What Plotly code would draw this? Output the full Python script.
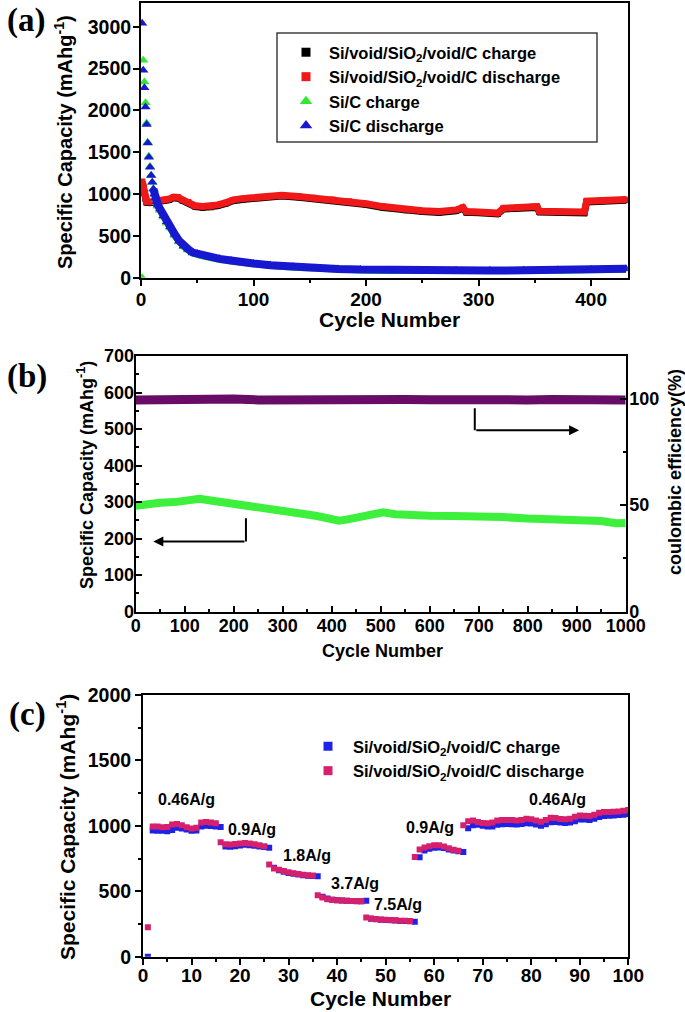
import plotly.graph_objects as go

W, H = 685, 1012
FONT = "Liberation Sans, Arial, sans-serif"
SERIF = "Liberation Serif, Times New Roman, serif"


def fx(p):
    return p / W


def fy(p):
    return 1 - p / H


# ---------------- panel (a) data ----------------
a_void_cycles = [1, 2, 3, 4, 5, 8, 12, 16, 20, 25, 29, 33, 37, 42, 48, 55, 62, 68, 75, 82, 90,
                 97, 105, 115, 125, 140, 153, 170, 185, 200, 215, 235, 250, 265, 280, 286, 289,
                 300, 317, 322, 335, 348, 352, 354, 377, 394, 396, 410, 431]
a_void_discharge = [1150, 1100, 1020, 950, 910, 905, 915, 910, 930, 940, 965, 960, 930, 905, 860,
                    850, 852, 870, 895, 930, 945, 955, 965, 975, 985, 970, 955, 935, 915, 885, 850,
                    815, 800, 790, 810, 840, 790, 785, 772, 830, 840, 850, 850, 795, 785, 785, 915,
                    925, 935]
a_void_charge = [1140, 1090, 1010, 940, 900, 895, 905, 900, 920, 930, 955, 950, 920, 895, 850,
                 840, 842, 860, 885, 920, 935, 945, 955, 965, 975, 960, 945, 925, 905, 875, 840,
                 805, 790, 780, 800, 830, 780, 775, 762, 820, 830, 840, 840, 785, 775, 775, 905,
                 915, 925]

a_sic_cycles = [1, 2, 3, 4, 5, 6, 7, 8, 9, 10, 11, 12, 13, 14, 15, 17, 20, 23, 26, 30, 34, 38,
                42, 46, 50, 55, 61, 70, 80, 91, 100, 115, 135, 155, 175, 195, 220, 250, 280, 310,
                340, 370, 400, 431]
a_sic_discharge = [3040, 2480, 2270, 2040, 1830, 1610, 1440, 1320, 1220, 1140, 1060, 1000, 950,
                   905, 870, 820, 740, 670, 610, 520, 440, 380, 340, 300, 285, 265, 245, 225, 205,
                   180, 170, 150, 130, 115, 105, 97, 90, 87, 86, 86, 88, 92, 98, 106]
a_sic_charge = [0, 2600, 2340, 2090, 1850, 1620, 1450, 1330, 1225, 1140, 1060, 995, 940, 895,
                855, 805, 725, 655, 595, 505, 428, 370, 330, 292, 278, 258, 238, 218, 198, 175,
                165, 145, 125, 110, 100, 92, 86, 83, 82, 82, 84, 88, 94, 102]

# ---------------- panel (b) data ----------------
b_cap_cycles = [0, 20, 50, 80, 110, 130, 160, 190, 220, 250, 280, 310, 340, 370, 400, 415, 430,
                460, 490, 505, 530, 560, 600, 650, 700, 720, 750, 800, 850, 900, 950, 980, 1000]
b_capacity = [290, 295, 298, 300, 305, 309, 303, 298, 292, 285, 280, 274, 268, 262, 254, 249,
              252, 262, 270, 272, 267, 264, 263, 262, 261, 264, 259, 255, 254, 250, 248, 242, 243]
b_ce_cycles = [0, 50, 100, 150, 200, 250, 300, 350, 400, 450, 500, 550, 600, 650, 700, 750, 800,
               850, 900, 950, 1000]
b_ce = [99.3, 99.6, 99.2, 99.5, 99.8, 99.4, 99.6, 99.3, 99.5, 99.7, 99.4, 99.6, 99.5, 99.3, 99.8,
        99.5, 99.4, 99.6, 99.3, 99.5, 99.4]

# ---------------- panel (c) data ----------------
c_cycles = list(range(1, 101))
c_discharge = [225,
               995, 995, 990, 992, 1010, 1015, 1005, 990, 980, 985, 1025, 1030, 1025, 1020,
               875, 860, 858, 862, 866, 868, 865, 860, 852, 845,
               705, 675, 665, 655, 645, 638, 632, 626, 622, 620,
               470, 452, 440, 435, 432, 430, 428, 426, 425, 424,
               300, 292, 288, 284, 282, 280, 278, 274, 275, 272,
               762, 820, 835, 845, 852, 852, 842, 828, 818, 810,
               1005, 1035, 1040, 1030, 1022, 1020, 1025, 1040, 1045, 1045, 1045, 1040, 1045, 1055,
               1050, 1040, 1032, 1045, 1062, 1060, 1052, 1050, 1055, 1070, 1080, 1078, 1075, 1085,
               1100, 1105, 1105, 1108, 1110, 1115, 1122]
c_charge = [0,
            965, 963, 962, 958, 968, 985, 980, 972, 963, 965, 995, 1000, 998, 995, 992,
            842, 840, 845, 850, 855, 852, 848, 842, 838, 832,
            680, 660, 650, 640, 634, 628, 623, 619, 617, 615,
            458, 445, 436, 432, 430, 428, 426, 424, 424, 428,
            290, 286, 282, 280, 278, 276, 273, 272, 270, 268,
            760, 812, 825, 832, 835, 830, 820, 812, 805, 800,
            982, 1005, 1008, 1000, 995, 995, 1008, 1012, 1015, 1012, 1010, 1015, 1020, 1018,
            1010, 1000, 1012, 1028, 1030, 1025, 1022, 1025, 1035, 1048, 1048, 1045, 1055, 1068,
            1075, 1078, 1080, 1082, 1085, 1090]

rate_labels = ["0.46A/g", "0.9A/g", "1.8A/g", "3.7A/g", "7.5A/g", "0.9A/g", "0.46A/g"]
rate_label_x = [8.9, 22.5, 33.8, 43.6, 52.5, 59.2, 85.5]
rate_label_y = [1200, 975, 772, 562, 398, 990, 1204]

void_names = ["Si/void/SiO<sub>2</sub>/void/C charge", "Si/void/SiO<sub>2</sub>/void/C discharge"]
sic_names = ["Si/C charge", "Si/C discharge"]
ytitle = "Specific Capacity (mAhg<sup>-1</sup>)"
xtitle = "Cycle Number"
ce_title = "coulombic efficiency(%)"

BLACK = "#000000"
RED = "#f01818"
GREEN_A = "#30e830"
BLUE_A = "#1818d0"
GREEN_B = "#3cf03c"
PURPLE = "#680c68"
BLUE_C = "#1e22e6"
PINK_C = "#d6206e"

fig = go.Figure()


def legend_entry(name, symbol, color, size, legend, xa, ya):
    # legend-only swatch (no data points), sized like the reference legend symbols
    return go.Scatter(x=[None], y=[None], mode="markers", name=name, legend=legend,
                      marker=dict(symbol=symbol, size=size, color=color), xaxis=xa, yaxis=ya)


# ----- (a) -----
k = a_sic_cycles.index(11)
fig.add_trace(go.Scatter(x=a_void_cycles, y=a_void_charge, mode="lines+markers",
                         line=dict(color=BLACK, width=7),
                         marker=dict(symbol="square", size=6, color=BLACK),
                         showlegend=False, xaxis="x", yaxis="y", name=void_names[0]))
fig.add_trace(go.Scatter(x=a_void_cycles, y=a_void_discharge, mode="lines+markers",
                         line=dict(color=RED, width=7),
                         marker=dict(symbol="square", size=6, color=RED),
                         showlegend=False, xaxis="x", yaxis="y", name=void_names[1]))
fig.add_trace(go.Scatter(x=a_sic_cycles[k:], y=a_sic_charge[k:], mode="lines",
                         line=dict(color=GREEN_A, width=7), showlegend=False,
                         xaxis="x", yaxis="y", hoverinfo="skip"))
fig.add_trace(go.Scatter(x=a_sic_cycles, y=a_sic_charge, mode="markers",
                         marker=dict(symbol="triangle-up", size=9, color=GREEN_A),
                         showlegend=False, xaxis="x", yaxis="y", name=sic_names[0]))
fig.add_trace(go.Scatter(x=a_sic_cycles[k:], y=a_sic_discharge[k:], mode="lines",
                         line=dict(color=BLUE_A, width=8), showlegend=False,
                         xaxis="x", yaxis="y", hoverinfo="skip"))
fig.add_trace(go.Scatter(x=a_sic_cycles, y=a_sic_discharge, mode="markers",
                         marker=dict(symbol="triangle-up", size=9, color=BLUE_A),
                         showlegend=False, xaxis="x", yaxis="y", name=sic_names[1]))
fig.add_trace(legend_entry(void_names[0], "square", BLACK, 9, "legend", "x", "y"))
fig.add_trace(legend_entry(void_names[1], "square", RED, 9, "legend", "x", "y"))
fig.add_trace(legend_entry(sic_names[0], "triangle-up", GREEN_A, 11, "legend", "x", "y"))
fig.add_trace(legend_entry(sic_names[1], "triangle-up", BLUE_A, 11, "legend", "x", "y"))

# ----- (b) -----
fig.add_trace(go.Scatter(x=b_cap_cycles, y=b_capacity, mode="lines",
                         line=dict(color=GREEN_B, width=8), showlegend=False,
                         xaxis="x2", yaxis="y2"))
fig.add_trace(go.Scatter(x=b_ce_cycles, y=b_ce, mode="lines",
                         line=dict(color=PURPLE, width=9), showlegend=False,
                         xaxis="x2", yaxis="y3"))

# ----- (c) -----
fig.add_trace(go.Scatter(x=c_cycles, y=c_charge, mode="markers",
                         marker=dict(symbol="square", size=6, color=BLUE_C),
                         name=void_names[0], xaxis="x3", yaxis="y4", showlegend=False))
fig.add_trace(go.Scatter(x=c_cycles, y=c_discharge, mode="markers",
                         marker=dict(symbol="square", size=6, color=PINK_C),
                         name=void_names[1], xaxis="x3", yaxis="y4", showlegend=False))
fig.add_trace(legend_entry(void_names[0], "square", BLUE_C, 9, "legend2", "x3", "y4"))
fig.add_trace(legend_entry(void_names[1], "square", PINK_C, 9, "legend2", "x3", "y4"))


def tf(size):
    return dict(family=FONT, size=size, color="black", weight="bold")


def axstyle(direction, standoff=0):
    return dict(showline=True, linecolor="black", linewidth=2, mirror=True, showgrid=False,
                zeroline=False, ticks=direction, ticklen=6, tickwidth=2, tickcolor="black",
                automargin=False, ticklabelstandoff=standoff)


def minor(direction, **kw):
    return dict(ticks=direction, ticklen=3, tickwidth=2, tickcolor="black", **kw)


y3style = axstyle("inside", -2)
y3style["mirror"] = False

fig.update_layout(
    width=W, height=H, paper_bgcolor="white", plot_bgcolor="white",
    margin=dict(l=0, r=0, t=0, b=0),
    font=dict(family=FONT, color="black"),
    xaxis=dict(domain=[fx(141), fx(627.7)], anchor="y", range=[0, 432.5], dtick=100,
               tickfont=tf(19), minor=minor("outside", dtick=50), **axstyle("outside", -3)),
    yaxis=dict(domain=[fy(277.7), fy(3)], anchor="x", range=[0, 3283], dtick=500,
               tickfont=tf(19.5), **axstyle("outside", -2)),
    xaxis2=dict(domain=[fx(135.7), fx(625.7)], anchor="y2", range=[0, 1000], dtick=100,
                tickfont=tf(18), minor=minor("inside", dtick=50), **axstyle("inside", -3)),
    yaxis2=dict(domain=[fy(611.7), fy(356)], anchor="x2", range=[0, 700], dtick=100,
                tickfont=tf(18), minor=minor("inside", dtick=50), **axstyle("inside", -4)),
    yaxis3=dict(overlaying="y2", side="right", anchor="x2", range=[0, 120],
                tickvals=[0, 50, 100], tickfont=tf(18),
                minor=minor("inside", tickvals=[25, 75]), **y3style),
    xaxis3=dict(domain=[fx(143), fx(628.3)], anchor="y4", range=[0, 100], dtick=10,
                tickfont=tf(19), minor=minor("outside", dtick=5), **axstyle("outside", -6)),
    yaxis4=dict(domain=[fy(956.7), fy(695)], anchor="x3", range=[0, 2000], dtick=500,
                tickfont=tf(19.5), minor=minor("outside", dtick=250), **axstyle("outside", 0)),
    legend=dict(x=fx(283), y=fy(35), xanchor="left", yanchor="top", bgcolor="rgba(0,0,0,0)",
                borderwidth=0, font=tf(16.5), tracegroupgap=0, itemwidth=36),
    legend2=dict(x=fx(303), y=fy(729), xanchor="left", yanchor="top", bgcolor="rgba(0,0,0,0)",
                 borderwidth=0, font=tf(16.5), tracegroupgap=0, itemwidth=40),
)

# axis titles placed as annotations
titles = [
    (xtitle, 389, 320, 0, 21),
    (ytitle, 64, 142, -90, 20),
    (xtitle, 382, 651, 0, 18),
    (ytitle, 85, 475, -90, 18),
    (ce_title, 675, 472, -90, 18),
    (xtitle, 380, 998, 0, 21),
    (ytitle, 66, 827, -90, 21),
]
for text, px_, py_, ang, size in titles:
    fig.add_annotation(xref="paper", yref="paper", x=fx(px_), y=fy(py_), text=text,
                       textangle=ang, showarrow=False, xanchor="center", yanchor="middle",
                       font=tf(size))

# legend frame of panel (a)
fig.add_shape(type="rect", xref="paper", yref="paper", x0=fx(277), x1=fx(597), y0=fy(142),
              y1=fy(33), line=dict(color="#404040", width=1.5))

# arrows in panel (b)
fig.add_shape(type="line", xref="x2", yref="y2", x0=225, x1=225, y0=256, y1=192,
              line=dict(color="black", width=2))
fig.add_annotation(xref="x2", yref="y2", axref="x2", ayref="y2", x=36, y=192, ax=225, ay=192,
                   text="", showarrow=True, arrowhead=2, arrowsize=1, arrowwidth=2,
                   arrowcolor="black")
fig.add_shape(type="line", xref="x2", yref="y2", x0=692, x1=692, y0=557, y1=497,
              line=dict(color="black", width=2))
fig.add_annotation(xref="x2", yref="y2", axref="x2", ayref="y2", x=905, y=497, ax=692, ay=497,
                   text="", showarrow=True, arrowhead=2, arrowsize=1, arrowwidth=2,
                   arrowcolor="black")

# panel letters
for lab, (px_, py_) in zip(["(a)", "(b)", "(c)"], [(26, 21), (27, 377), (27, 714)]):
    fig.add_annotation(xref="paper", yref="paper", x=fx(px_), y=fy(py_), text=lab,
                       xanchor="center", yanchor="middle", showarrow=False,
                       font=dict(family=SERIF, size=33, weight="bold", color="black"))

# rate labels in (c)
for t, xv, yv in zip(rate_labels, rate_label_x, rate_label_y):
    fig.add_annotation(xref="x3", yref="y4", x=xv, y=yv, text=t, showarrow=False,
                       font=tf(16))

fig.write_html("out.html", config={"displayModeBar": False},
               post_script="document.body.style.margin='0px';")
